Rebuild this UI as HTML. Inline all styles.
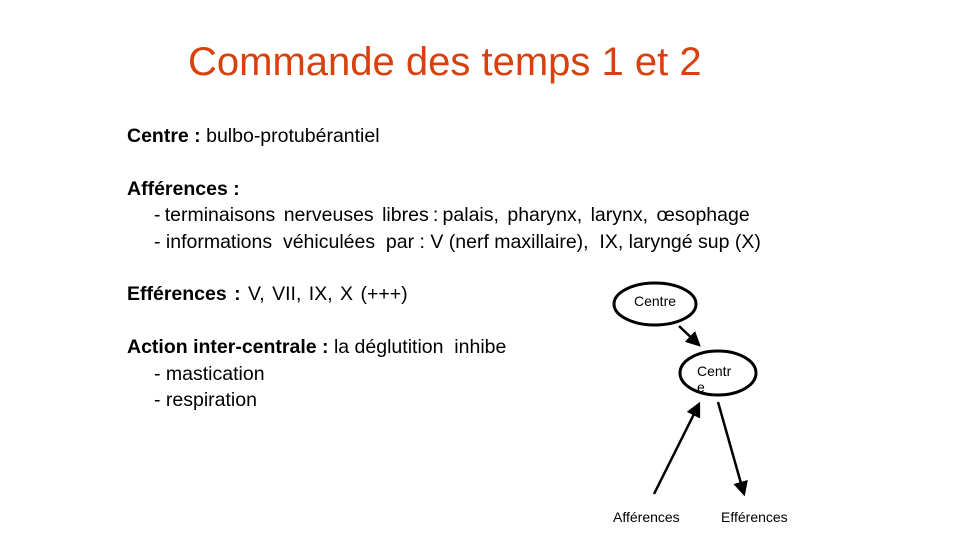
<!DOCTYPE html>
<html><head><meta charset="utf-8"><style>
body{margin:0;width:960px;height:540px;background:#fff;position:relative;overflow:hidden;font-family:"Liberation Sans",sans-serif;color:#000}
.t{position:absolute;white-space:nowrap;font-size:19.5px;line-height:22px}
</style></head><body>
<div class="t" style="left:188px;top:40px;font-size:40px;line-height:44px;color:#d8400e">Commande des temps 1 et 2</div>
<div class="t" style="left:127px;top:125px"><b>Centre :</b> bulbo-protubérantiel</div>
<div class="t" style="left:127px;top:178px"><b>Afférences :</b></div>
<div class="t" style="left:154px;top:204px;word-spacing:-1.2px">- terminaisons&nbsp; nerveuses&nbsp; libres : palais,&nbsp; pharynx,&nbsp; larynx,&nbsp; œsophage</div>
<div class="t" style="left:154px;top:231px">- informations&nbsp; véhiculées&nbsp; par : V (nerf maxillaire),&nbsp; IX, laryngé sup (X)</div>
<div class="t" style="left:127px;top:283px;word-spacing:2px"><b>Efférences :</b> V, VII, IX, X (+++)</div>
<div class="t" style="left:127px;top:336px"><b>Action inter-centrale :</b> la déglutition&nbsp; inhibe</div>
<div class="t" style="left:154px;top:363px">- mastication</div>
<div class="t" style="left:154px;top:389px">- respiration</div>
<svg width="960" height="540" style="position:absolute;left:0;top:0">
<defs><marker id="a" markerWidth="6" markerHeight="6" refX="5" refY="3" orient="auto" markerUnits="strokeWidth"><path d="M0,0L6,3L0,6z" fill="#000"/></marker></defs>
<ellipse cx="655" cy="304" rx="41" ry="21" fill="#fff" stroke="#000" stroke-width="3"/>
<ellipse cx="718" cy="373" rx="38" ry="22" fill="#fff" stroke="#000" stroke-width="3"/>
<g stroke="#000" stroke-width="2.5" marker-end="url(#a)">
<line x1="679" y1="326" x2="699" y2="345"/>
<line x1="654" y1="494" x2="699" y2="404"/>
<line x1="718" y1="402" x2="744" y2="494"/>
</g>
<g font-family="Liberation Sans,sans-serif" font-size="14">
<text x="634" y="306">Centre</text>
<text x="697" y="376">Centr</text>
<text x="697" y="392">e</text>
<text x="613" y="522">Afférences</text>
<text x="721" y="522">Efférences</text>
</g>
</svg>
</body></html>
